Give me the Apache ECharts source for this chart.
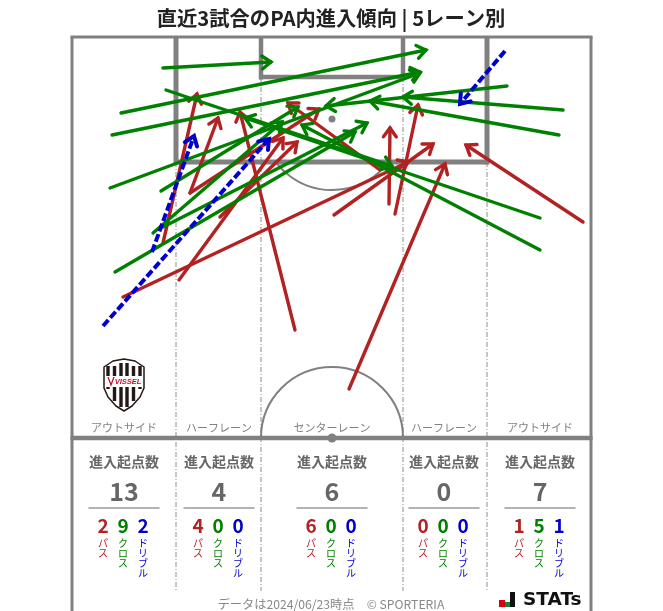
<!DOCTYPE html>
<html><head><meta charset="utf-8">
<style>html,body{margin:0;padding:0;background:#fff}#c{width:663px;height:611px}</style>
<script src="https://cdn.jsdelivr.net/npm/echarts@6/dist/echarts.min.js"></script>
</head><body><div id="c"></div>
<script>
// [fromX, fromY, toX, toY] in pitch-image units
const passes = [
 [163,243,197,94],[123,297,408,162],[179,280,283,138],[190,193,218,118],[190,193,319,109],[220,217,297,142],
 [295,330,240,112],[349,389,445,164],[334,215,433,144],[389,204,390,128],[395,214,418,105],[380,170,288,103],
 [583,222,466,145]
];
const crosses = [
 [163,68,271,62],[121,113,426,50],[112,135,420,72],[110,188,420,73],[161,191,298,107],[153,233,282,122],
 [163,227,367,123],[115,272,355,132],[166,90,392,166],
 [507,86,326,106],[563,110,403,97],[559,135,370,101],[540,218,245,118],[540,250,302,125]
];
const dribbles = [[152,252,194,136],[103,326,269,139],[505,51,460,104]];

const title = '直近3試合のPA内進入傾向 | 5レーン別';
const laneNames = ['アウトサイド','ハーフレーン','センターレーン','ハーフレーン','アウトサイド'];
const laneCenters = [124,219,332,444,540];
const laneTotals = [13,4,6,0,7];
const lanePass = [2,4,6,0,1];
const laneCross = [9,0,0,0,5];
const laneDribble = [2,0,0,0,1];
const footer = 'データは2024/06/23時点　© SPORTERIA';

const RED='#B22222', GREEN='#008000', BLUE='#0000CD', LINE='#808080', TXT='#666666';
const FONT='"Noto Sans CJK JP"';

function arrowSeries(data,color,w,dash,z){
  return {type:'custom',data,z,clip:false,silent:true,encode:{x:[0,2],y:[1,3]},
    renderItem(p,api){
      const a=api.coord([api.value(0),api.value(1)]), b=api.coord([api.value(2),api.value(3)]);
      const ang=Math.atan2(b[1]-a[1],b[0]-a[0]), L=11, H=Math.PI/5;
      const style={stroke:color,lineWidth:w,fill:null,lineCap:'round',lineJoin:'miter'};
      return {type:'group',children:[
        {type:'line',shape:{x1:a[0],y1:a[1],x2:b[0],y2:b[1]},style:Object.assign({},style,dash?{lineDash:dash,lineCap:'butt'}:{})},
        {type:'polyline',shape:{points:[[b[0]-L*Math.cos(ang-H),b[1]-L*Math.sin(ang-H)],b,[b[0]-L*Math.cos(ang+H),b[1]-L*Math.sin(ang+H)]]},style}
      ]};
    }};
}

const g=[];
function ln(x1,y1,x2,y2,w,c,dash){g.push({type:'line',z:1,silent:true,shape:{x1,y1,x2,y2},style:{stroke:c||LINE,lineWidth:w,lineDash:dash||null}});}
function tx(x,y,text,size,color,weight,extra){g.push({type:'text',z:5,silent:true,x,y,style:Object.assign({text,fill:color,font:(weight||'normal')+' '+size+'px '+FONT,textAlign:'center',textVerticalAlign:'middle'},extra||{})});}
function arc(cx,cy,r,a0,a1,w){g.push({type:'arc',z:1,silent:true,shape:{cx,cy,r,startAngle:a0,endAngle:a1},style:{stroke:LINE,lineWidth:w,fill:null}});}
function dot(cx,cy,r){g.push({type:'circle',z:1,silent:true,shape:{cx,cy,r},style:{fill:LINE}});}

// pitch
const dd=[5,2,1,2];
[[176,162],[261,77],[403,77],[487,162]].forEach(([x,y])=>ln(x,y,x,591,1,'#8c8c8c',dd));
ln(72,37,72,611,3); ln(591,37,591,611,3); ln(70.5,37,592.5,37,3); ln(70.5,438,592.5,438,4.5);
ln(176,37,176,164.5,5); ln(487,37,487,164.5,5); ln(176,162,487,162,5);
ln(261,37,261,79.5,4.5); ln(403,37,403,79.5,4.5); ln(259,77,405,77,4.5);
arc(332,119,71,Math.PI*0.205,Math.PI*0.795,2);
arc(332,438,71,Math.PI,Math.PI*2,2);
dot(332,119,3.5); dot(332,438,4.5);

// title & lane text
tx(331,18,title,20.3,'#222222','bold');
laneCenters.forEach((c,i)=>{
  tx(c,428,laneNames[i],11,'#808080');
  tx(c,462,'進入起点数',14,TXT,'bold');
  tx(c,491.5,String(laneTotals[i]),25,TXT,'bold');
  ln(c-35.5,508,c+35.5,508,1,'#666666');
  [[lanePass[i],RED,'パス'],[laneCross[i],GREEN,'クロス'],[laneDribble[i],BLUE,'ドリブル']].forEach(([v,col,lab],k)=>{
    const x=c-21+20*k;
    tx(x,526,String(v),19,col,'bold');
    g.push({type:'text',z:5,silent:true,x:x,y:538,style:{text:lab.split('').join('\n'),fill:col,font:'10px '+FONT,textAlign:'center',textVerticalAlign:'top',lineHeight:10}});
  });
});
tx(331,604,footer,12.2,'#888888');

// club crest
const crest=[[124,359],[135,361],[144,367],[144,388],[140,397],[132,406],[124,411],[116,406],[108,397],[104,388],[104,367],[113,361]];
g.push({type:'polygon',z:4,silent:true,shape:{points:crest},style:{fill:'#fff',stroke:'#231815',lineWidth:1.5,lineJoin:'round'}});
const halfW=y=>y<388?20:(y<397?20-(y-388)*4/9:(y<406?16-(y-397)*8/9:8-(y-406)*8/5));
const stripeX=[-16,-9.5,-3,3,9.5,16];
stripeX.forEach(o=>{
  const top=Math.abs(o)>8?366:363;
  g.push({type:'rect',z:4,silent:true,shape:{x:124+o-1.7,y:top,width:3.4,height:376-top},style:{fill:'#231815'}});
  let yb=387; while(yb<411&&halfW(yb)-2>Math.abs(o)+1.7)yb++;
  if(yb>387)g.push({type:'rect',z:4,silent:true,shape:{x:124+o-1.7,y:387,width:3.4,height:yb-387},style:{fill:'#231815'}});
});
g.push({type:'polyline',z:5,silent:true,shape:{points:[[108,377],[111,385],[114,377]]},style:{stroke:'#C8102E',lineWidth:1.3,fill:null}});
g.push({type:'text',z:5,silent:true,x:128,y:381.5,style:{text:'VISSEL',fill:'#C8102E',font:'italic bold 7.5px "Liberation Sans"',textAlign:'center',textVerticalAlign:'middle'}});

// STATS logo
g.push({type:'rect',z:5,silent:true,shape:{x:499,y:600,width:6,height:7},style:{fill:'#D7000F'}});
g.push({type:'rect',z:5,silent:true,shape:{x:505,y:602,width:5,height:5},style:{fill:'#0A8A3C'}});
g.push({type:'rect',z:5,silent:true,shape:{x:510,y:592,width:5,height:15},style:{fill:'#111'}});
g.push({type:'text',z:5,silent:true,x:523,y:600,style:{text:'STATs',fill:'#111',font:'bold 18.5px "DejaVu Sans"',textAlign:'left',textVerticalAlign:'middle'}});

const chart=echarts.init(document.getElementById('c'),null,{renderer:'canvas',width:663,height:611});
chart.setOption({
  animation:false,backgroundColor:'#fff',
  grid:{left:0,right:0,top:0,bottom:0},
  xAxis:{type:'value',min:0,max:663,show:false},
  yAxis:{type:'value',min:0,max:611,inverse:true,show:false},
  graphic:g,
  series:[arrowSeries(passes,RED,3.4,null,10),arrowSeries(crosses,GREEN,3.4,null,11),arrowSeries(dribbles,BLUE,4,[8,3],12)]
});
</script></body></html>
